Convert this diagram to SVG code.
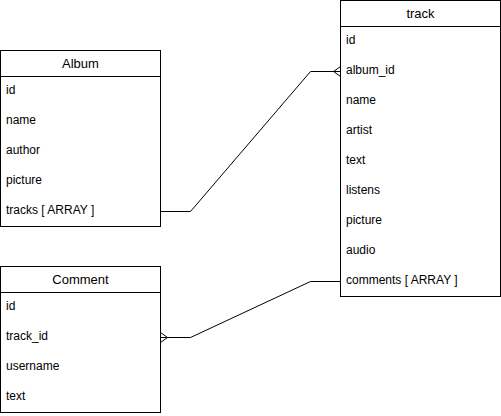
<svg xmlns="http://www.w3.org/2000/svg" width="501" height="416" viewBox="0 0 501 416">
<style>
.box{fill:#fff;stroke:#000;stroke-width:1}
.sep{stroke:#000;stroke-width:1}
.title{font-family:"Liberation Sans",Arial,sans-serif;font-size:13px;text-anchor:middle;fill:#000}
.field{font-family:"Liberation Sans",Arial,sans-serif;font-size:12px;fill:#000}
.edge{fill:none;stroke:#000;stroke-width:1}
</style>
<rect width="501" height="416" fill="#fff"/>
<g id="connectors">
<path class="edge" d="M160.5 211.5 H190.5 L310.5 71.5 H340.5"/>
<path class="edge" d="M340.5 66.5 L333.5 71.5 L340.5 76.5"/>
<path class="edge" d="M340.5 281.5 H310.5 L190.5 337.5 H160.5"/>
<path class="edge" d="M160.5 332.5 L167.5 337.5 L160.5 342.5"/>
</g>
<g id="album">
<rect class="box" x="0.5" y="50.5" width="160" height="176"/>
<line class="sep" x1="0.5" y1="76.5" x2="160.5" y2="76.5"/>
<text class="title" x="80.5" y="68">Album</text>
<text class="field" x="6" y="94">id</text>
<text class="field" x="6" y="124">name</text>
<text class="field" x="6" y="154">author</text>
<text class="field" x="6" y="184">picture</text>
<text class="field" x="6" y="214">tracks [ ARRAY ]</text>
</g>
<g id="track">
<rect class="box" x="340.5" y="0.5" width="160" height="296"/>
<line class="sep" x1="340.5" y1="26.5" x2="500.5" y2="26.5"/>
<text class="title" x="420.5" y="18">track</text>
<text class="field" x="346" y="44">id</text>
<text class="field" x="346" y="74">album_id</text>
<text class="field" x="346" y="104">name</text>
<text class="field" x="346" y="134">artist</text>
<text class="field" x="346" y="164">text</text>
<text class="field" x="346" y="194">listens</text>
<text class="field" x="346" y="224">picture</text>
<text class="field" x="346" y="254">audio</text>
<text class="field" x="346" y="284">comments [ ARRAY ]</text>
</g>
<g id="comment">
<rect class="box" x="0.5" y="266.5" width="160" height="146"/>
<line class="sep" x1="0.5" y1="292.5" x2="160.5" y2="292.5"/>
<text class="title" x="80.5" y="284">Comment</text>
<text class="field" x="6" y="310">id</text>
<text class="field" x="6" y="340">track_id</text>
<text class="field" x="6" y="370">username</text>
<text class="field" x="6" y="400">text</text>
</g>
</svg>
